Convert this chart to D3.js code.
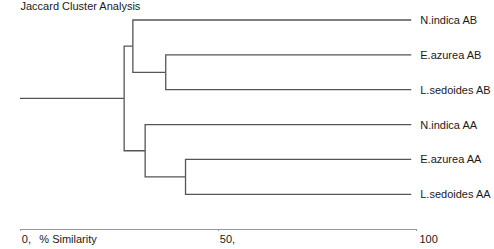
<!DOCTYPE html>
<html>
<head>
<meta charset="utf-8">
<script src="https://cdn.jsdelivr.net/npm/d3@7"></script>
<style>
  html, body { margin: 0; padding: 0; background: #fff; }
  svg { display: block; font-family: "Liberation Sans", Arial, sans-serif; }
</style>
</head>
<body>
<svg id="chart" width="494" height="249"></svg>
<script>
// ---- data ----
const title = "Jaccard Cluster Analysis";
const leafNames = ["N.indica AB", "E.azurea AB", "L.sedoides AB", "N.indica AA", "E.azurea AA", "L.sedoides AA"];
const leafParents = ["AB", "AB_EL", "AB_EL", "AA", "AA_EL", "AA_EL"];
const leafSimilarity = 98.8;
const clusterIds = ["root", "AB", "AB_EL", "AA", "AA_EL"];
const clusterParents = [null, "root", "AB", "root", "AA"];
const clusterSimilarity = [26.3, 28.5, 36.8, 31.6, 41.8];
const tickValues = [0, 50, 100];
const tickLabels = ["0,", "50,", "100"];
const axisTitle = "% Similarity";

// ---- build hierarchy ----
const rows = clusterIds.map((id, i) => ({ id, parent: clusterParents[i], sim: clusterSimilarity[i] }))
  .concat(leafNames.map((id, i) => ({ id, parent: leafParents[i], sim: leafSimilarity, leaf: true })));
const root = d3.stratify().id(d => d.id).parentId(d => d.parent)(rows);
const leafIndex = name => leafNames.indexOf(name);
root.eachAfter(n => { n.minIdx = n.children ? d3.min(n.children, c => c.minIdx) : leafIndex(n.id); });
root.sort((a, b) => a.minIdx - b.minIdx);

// ---- scales ----
const x = d3.scaleLinear().domain([0, 100]).range([20, 416]);
const yLeaf = d3.scalePoint().domain(leafNames).range([20, 194.3]);
root.eachAfter(n => {
  n.py = n.children ? d3.mean(n.children, c => c.py) : yLeaf(n.id);
  n.px = x(n.data.sim);
});

const svg = d3.select("#chart");
const ink = "#555";

// title
svg.append("text").attr("x", 20.5).attr("y", 10)
  .attr("font-size", 11).attr("fill", "#1a1a1a").text(title);

// links
const g = svg.append("g").attr("fill", "none").attr("stroke", ink).attr("stroke-width", 1.3);
g.append("path").attr("d", `M${x(0)},${root.py}H${root.px}`);
root.descendants().filter(n => n.parent).forEach(n => {
  g.append("path").attr("d", `M${n.parent.px},${n.parent.py}V${n.py}H${n.px}`);
});

// leaf labels
svg.append("g").selectAll("text").data(root.leaves()).join("text")
  .attr("x", d => d.px + 9)
  .attr("y", d => d.py + 4)
  .attr("font-size", 11).attr("fill", "#1a1a1a")
  .text(d => d.id);

// axis
const axis = d3.axisBottom(x).tickValues(tickValues).tickSize(2).tickSizeOuter(0)
  .tickFormat((d, i) => tickLabels[i]);
const ag = svg.append("g").attr("transform", "translate(0,229)").call(axis);
ag.select(".domain").attr("stroke", "#999").attr("stroke-width", 1);
ag.selectAll(".tick line").attr("stroke", "#999");
ag.selectAll(".tick text")
  .attr("text-anchor", "start").attr("dx", (d, i) => i === 2 ? 3 : 1.3).attr("y", 14).attr("dy", 0)
  .attr("font-size", 11).attr("fill", "#1a1a1a").attr("font-family", "Liberation Sans, Arial, sans-serif");
ag.append("text").attr("x", 39.3).attr("y", 14)
  .attr("font-size", 11).attr("fill", "#1a1a1a").attr("text-anchor", "start")
  .attr("font-family", "Liberation Sans, Arial, sans-serif")
  .text(axisTitle);
</script>
</body>
</html>
